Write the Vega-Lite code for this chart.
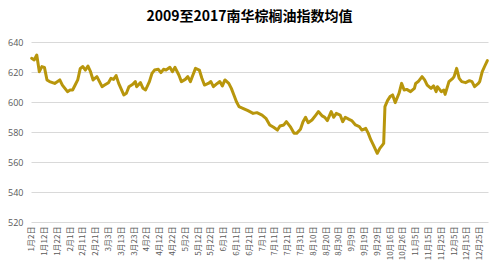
{
  "$schema": "https://vega.github.io/schema/vega-lite/v6.json",
  "width": 457,
  "height": 180,
  "autosize": {"type": "none"},
  "padding": {"left": 31, "top": 42, "right": 12, "bottom": 55},
  "background": "white",
  "config": {"view": {"stroke": null}},
  "title": {
    "text": "2009至2017南华棕榈油指数均值",
    "font": "Noto Sans CJK SC",
    "fontSize": 14,
    "fontWeight": "bold",
    "color": "#000000",
    "anchor": "middle",
    "dx": -10,
    "offset": 14
  },
  "data": {
    "values": [
      {"i": 0, "v": 629.1}, {"i": 2, "v": 628}, {"i": 4, "v": 631.3}, {"i": 6, "v": 620.2},
      {"i": 8, "v": 623.6}, {"i": 10, "v": 623.1}, {"i": 12, "v": 614.7}, {"i": 14, "v": 613.6},
      {"i": 18, "v": 612.4}, {"i": 22, "v": 614.7}, {"i": 24, "v": 611.3}, {"i": 26, "v": 609.1},
      {"i": 28, "v": 606.9}, {"i": 30, "v": 608}, {"i": 32, "v": 608}, {"i": 34, "v": 611.3},
      {"i": 36, "v": 614.7}, {"i": 38, "v": 622.4}, {"i": 40, "v": 623.6}, {"i": 42, "v": 621.3},
      {"i": 44, "v": 624}, {"i": 46, "v": 620.2}, {"i": 48, "v": 614.7}, {"i": 51, "v": 616.9},
      {"i": 53, "v": 613.6}, {"i": 55, "v": 610.2}, {"i": 57, "v": 611.3}, {"i": 60, "v": 612.9},
      {"i": 62, "v": 615.8}, {"i": 64, "v": 615.1}, {"i": 66, "v": 617.6}, {"i": 68, "v": 612.4},
      {"i": 72, "v": 604.7}, {"i": 74, "v": 605.8}, {"i": 76, "v": 610.2}, {"i": 79, "v": 611.8},
      {"i": 81, "v": 613.6}, {"i": 82, "v": 610.2}, {"i": 85, "v": 612.9}, {"i": 87, "v": 609.1},
      {"i": 89, "v": 608}, {"i": 92, "v": 613.6}, {"i": 94, "v": 619.1}, {"i": 96, "v": 621.3},
      {"i": 99, "v": 621.8}, {"i": 101, "v": 619.6}, {"i": 103, "v": 621.8}, {"i": 105, "v": 621.3},
      {"i": 108, "v": 623.1}, {"i": 110, "v": 620.2}, {"i": 112, "v": 623.1}, {"i": 115, "v": 618},
      {"i": 117, "v": 613.6}, {"i": 120, "v": 615.1}, {"i": 122, "v": 616.9}, {"i": 124, "v": 613.6},
      {"i": 126, "v": 618}, {"i": 128, "v": 622.4}, {"i": 131, "v": 621.3}, {"i": 133, "v": 615.8},
      {"i": 135, "v": 611.3}, {"i": 138, "v": 612.4}, {"i": 140, "v": 613.6}, {"i": 142, "v": 610.2},
      {"i": 145, "v": 612.4}, {"i": 147, "v": 613.6}, {"i": 149, "v": 610.7}, {"i": 151, "v": 614.7},
      {"i": 154, "v": 612.4}, {"i": 156, "v": 609.1}, {"i": 158, "v": 604.7}, {"i": 160, "v": 600.2},
      {"i": 162, "v": 596.9}, {"i": 165, "v": 595.8}, {"i": 169, "v": 594.2}, {"i": 173, "v": 592.4},
      {"i": 176, "v": 592.9}, {"i": 180, "v": 591.3}, {"i": 183, "v": 589.1}, {"i": 186, "v": 584.7},
      {"i": 189, "v": 583.1}, {"i": 192, "v": 581.3}, {"i": 194, "v": 584}, {"i": 197, "v": 584.7},
      {"i": 199, "v": 586.9}, {"i": 202, "v": 583.6}, {"i": 205, "v": 579.1}, {"i": 207, "v": 579.1},
      {"i": 210, "v": 581.8}, {"i": 212, "v": 586.9}, {"i": 214, "v": 589.8}, {"i": 216, "v": 586.2},
      {"i": 219, "v": 588}, {"i": 222, "v": 591.3}, {"i": 224, "v": 593.6}, {"i": 227, "v": 590.7},
      {"i": 229, "v": 589.8}, {"i": 231, "v": 587.6}, {"i": 234, "v": 593.6}, {"i": 236, "v": 589.8},
      {"i": 238, "v": 592.4}, {"i": 241, "v": 591.3}, {"i": 243, "v": 586.9}, {"i": 245, "v": 589.8},
      {"i": 248, "v": 588.4}, {"i": 250, "v": 587.6}, {"i": 253, "v": 584.7}, {"i": 256, "v": 583.6},
      {"i": 258, "v": 581.3}, {"i": 261, "v": 582.4}, {"i": 263, "v": 579.1}, {"i": 265, "v": 574.7},
      {"i": 267, "v": 571.3}, {"i": 270, "v": 565.8}, {"i": 272, "v": 569.1}, {"i": 274, "v": 571.3},
      {"i": 275, "v": 572.4}, {"i": 276, "v": 596.9}, {"i": 278, "v": 600.9}, {"i": 280, "v": 603.6},
      {"i": 282, "v": 604.7}, {"i": 284, "v": 599.6}, {"i": 287, "v": 605.8}, {"i": 289, "v": 612.4},
      {"i": 291, "v": 608}, {"i": 293, "v": 608.4}, {"i": 296, "v": 606.9}, {"i": 299, "v": 609.1},
      {"i": 300, "v": 612.4}, {"i": 302, "v": 613.6}, {"i": 305, "v": 616.9}, {"i": 307, "v": 614.7},
      {"i": 309, "v": 611.3}, {"i": 312, "v": 609.1}, {"i": 314, "v": 610.7}, {"i": 316, "v": 606.9},
      {"i": 317, "v": 610.2}, {"i": 320, "v": 606.9}, {"i": 322, "v": 608}, {"i": 323, "v": 605.1},
      {"i": 326, "v": 613.6}, {"i": 329, "v": 615.8}, {"i": 330, "v": 616.9}, {"i": 332, "v": 622.4},
      {"i": 334, "v": 615.8}, {"i": 336, "v": 613.6}, {"i": 339, "v": 612.9}, {"i": 342, "v": 614.2},
      {"i": 344, "v": 613.6}, {"i": 346, "v": 610.2}, {"i": 349, "v": 612.4}, {"i": 350, "v": 613.6},
      {"i": 352, "v": 620.2}, {"i": 354, "v": 624}, {"i": 356, "v": 627.6}
    ]
  },
  "mark": {"type": "line", "color": "#B8960C", "strokeWidth": 3, "strokeJoin": "round", "strokeCap": "round"},
  "encoding": {
    "x": {
      "field": "i",
      "type": "quantitative",
      "scale": {"domain": [-0.5, 356.5], "nice": false, "zero": false},
      "axis": {
        "title": null,
        "values": [0, 10, 20, 30, 40, 50, 60, 70, 80, 90, 100, 110, 120, 130, 140, 150, 160, 170, 180, 190, 200, 210, 220, 230, 240, 250, 260, 270, 280, 290, 300, 310, 320, 330, 340, 350],
        "labelExpr": "['1月2日','1月12日','1月22日','2月1日','2月11日','2月21日','3月3日','3月13日','3月23日','4月2日','4月12日','4月22日','5月2日','5月12日','5月22日','6月1日','6月11日','6月21日','7月1日','7月11日','7月21日','7月31日','8月10日','8月20日','8月30日','9月9日','9月19日','9月29日','10月16日','10月26日','11月5日','11月15日','11月25日','12月5日','12月15日','12月25日'][round(datum.value / 10)]",
        "labelAngle": -90,
        "labelFont": "Noto Sans CJK SC",
        "labelFontSize": 8,
        "labelColor": "#595959",
        "labelPadding": 4,
        "labelOverlap": false,
        "labelBound": false,
        "labelFlush": false,
        "grid": false,
        "ticks": false,
        "domain": false
      }
    },
    "y": {
      "field": "v",
      "type": "quantitative",
      "scale": {"domain": [520, 640], "nice": false, "zero": false},
      "axis": {
        "title": null,
        "values": [520, 540, 560, 580, 600, 620, 640],
        "labelFont": "Open Sans",
        "labelFontSize": 9,
        "labelColor": "#595959",
        "labelPadding": 8,
        "gridColor": "#D9D9D9",
        "gridWidth": 1,
        "ticks": false,
        "domain": false
      }
    }
  }
}
